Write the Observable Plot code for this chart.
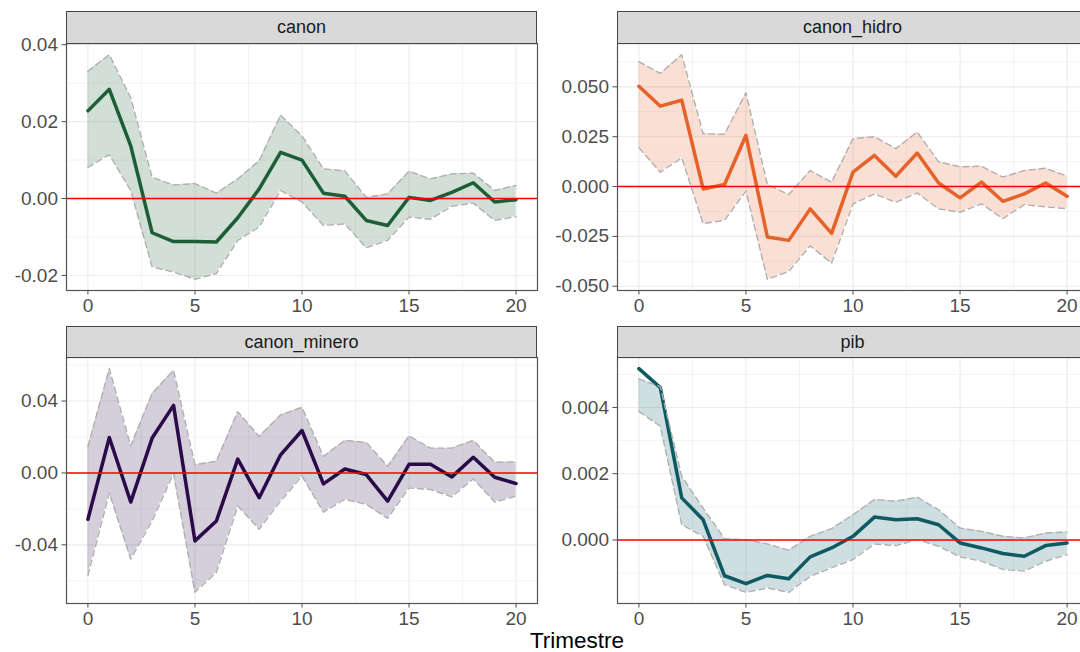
<!DOCTYPE html>
<html>
<head>
<meta charset="utf-8">
<script src="https://cdn.jsdelivr.net/npm/d3@7"></script>
<script src="https://cdn.jsdelivr.net/npm/@observablehq/plot@0.6"></script>
<style>
html, body { margin: 0; padding: 0; background: #fff; overflow: hidden; }
#root { position: relative; width: 1080px; height: 652px; overflow: hidden; font-family: "Liberation Sans", Arial, sans-serif; }
.strip { position: absolute; background: #d9d9d9; border: 1px solid #444; box-sizing: border-box;
  display: flex; align-items: center; justify-content: center; font-size: 18px; color: #1a1a1a; }
.panel { position: absolute; }
.xtitle { position: absolute; font-size: 22.5px; line-height: 23px; color: #000; transform: translateX(-50%); white-space: nowrap; }
</style>
</head>
<body>
<div id="root"></div>
<script>
// ---------- data ----------
const trimestre = [0,1,2,3,4,5,6,7,8,9,10,11,12,13,14,15,16,17,18,19,20];

const canonIrf   = [0.0228,0.0284,0.0137,-0.0089,-0.0112,-0.0112,-0.0113,-0.0050,0.0025,0.0120,0.0100,0.0014,0.0006,-0.0057,-0.0070,0.0003,-0.0005,0.0016,0.0041,-0.0009,-0.0003];
const canonUpper = [0.0331,0.0374,0.0262,0.0055,0.0035,0.0039,0.0014,0.0051,0.0098,0.0217,0.0163,0.0077,0.0072,0.0003,0.0012,0.0071,0.0051,0.0064,0.0066,0.0021,0.0034];
const canonLower = [0.0081,0.0114,0.0021,-0.0178,-0.0191,-0.0210,-0.0195,-0.0109,-0.0074,0.0021,-0.0009,-0.0070,-0.0066,-0.0128,-0.0109,-0.0048,-0.0054,-0.0020,-0.0012,-0.0057,-0.0047];

const hidroIrf   = [0.0503,0.0403,0.0433,-0.0012,0.0010,0.0257,-0.0253,-0.0270,-0.0112,-0.0235,0.0072,0.0156,0.0052,0.0168,0.0018,-0.0057,0.0022,-0.0074,-0.0037,0.0018,-0.0049];
const hidroUpper = [0.0626,0.0567,0.0661,0.0265,0.0262,0.0470,0.0010,-0.0040,0.0080,0.0022,0.0240,0.0250,0.0190,0.0273,0.0124,0.0099,0.0102,0.0047,0.0080,0.0092,0.0052];
const hidroLower = [0.0195,0.0072,0.0144,-0.0186,-0.0169,-0.0023,-0.0465,-0.0426,-0.0297,-0.0384,-0.0087,-0.0037,-0.0079,-0.0032,-0.0112,-0.0129,-0.0087,-0.0161,-0.0091,-0.0102,-0.0111];

const mineroIrf   = [-0.0258,0.0197,-0.0162,0.0194,0.0376,-0.0378,-0.0267,0.0077,-0.0138,0.0101,0.0236,-0.0061,0.0022,-0.0009,-0.0157,0.0048,0.0048,-0.0022,0.0087,-0.0024,-0.0059];
const mineroUpper = [0.0147,0.0580,0.0151,0.0442,0.0571,0.0046,0.0065,0.0341,0.0203,0.0323,0.0365,0.0092,0.0181,0.0170,0.0037,0.0206,0.0138,0.0138,0.0181,0.0059,0.0061];
const mineroLower = [-0.0571,-0.0111,-0.0479,-0.0267,-0.0004,-0.0664,-0.0553,-0.0184,-0.0313,-0.0157,-0.0018,-0.0218,-0.0147,-0.0175,-0.0253,-0.0083,-0.0092,-0.0133,-0.0033,-0.0162,-0.0129];

const pibIrf   = [0.00517,0.00460,0.00127,0.00061,-0.00108,-0.00132,-0.00107,-0.00117,-0.00051,-0.00024,0.00011,0.00069,0.00061,0.00064,0.00046,-0.00009,-0.00024,-0.00041,-0.00049,-0.00017,-0.00009];
const pibUpper = [0.00486,0.00463,0.00192,0.00096,0.00004,0.00001,-0.00012,-0.00031,0.00011,0.00034,0.00076,0.00122,0.00117,0.00129,0.00091,0.00036,0.00026,0.00011,0.00006,0.00021,0.00024];
const pibLower = [0.00388,0.00343,0.00046,0.00011,-0.00135,-0.00158,-0.00145,-0.00158,-0.00110,-0.00084,-0.00059,-0.00012,-0.00017,0.00001,-0.00019,-0.00051,-0.00064,-0.00089,-0.00094,-0.00064,-0.00044];

const panelNames = ["canon", "canon_hidro", "canon_minero", "pib"];
const lineColors = ["#1c5e35", "#e6622a", "#2b0a4a", "#0e5a62"];

const xTicks = [0, 5, 10, 15, 20];
const xMinorTicks = [2.5, 7.5, 12.5, 17.5];
const xTickLabels = ["0", "5", "10", "15", "20"];

const yTicksCanon = [-0.02, 0, 0.02, 0.04];
const yMinorCanon = [-0.01, 0.01, 0.03];
const yLabelsCanon = ["-0.02", "0.00", "0.02", "0.04"];

const yTicksHidro = [-0.05, -0.025, 0, 0.025, 0.05];
const yMinorHidro = [-0.0375, -0.0125, 0.0125, 0.0375, 0.0625];
const yLabelsHidro = ["-0.050", "-0.025", "0.000", "0.025", "0.050"];

const yTicksMinero = [-0.04, 0, 0.04];
const yMinorMinero = [-0.06, -0.02, 0.02, 0.06];
const yLabelsMinero = ["-0.04", "0.00", "0.04"];

const yTicksPib = [0, 0.002, 0.004];
const yMinorPib = [-0.001, 0.001, 0.003, 0.005];
const yLabelsPib = ["0.000", "0.002", "0.004"];

const xTitle = "Trimestre";

// ---------- layout ----------
const root = document.getElementById("root");
const PW = 471;
const panels = [
  {name: panelNames[0], color: lineColors[0], irf: canonIrf, lo: canonLower, hi: canonUpper,
   yt: yTicksCanon, ym: yMinorCanon, yl: yLabelsCanon, px: 66, py: 43, ph: 247, sx: 0, stripTop: 11},
  {name: panelNames[1], color: lineColors[1], irf: hidroIrf, lo: hidroLower, hi: hidroUpper,
   yt: yTicksHidro, ym: yMinorHidro, yl: yLabelsHidro, px: 617, py: 43, ph: 247, sx: 540, stripTop: 11},
  {name: panelNames[2], color: lineColors[2], irf: mineroIrf, lo: mineroLower, hi: mineroUpper,
   yt: yTicksMinero, ym: yMinorMinero, yl: yLabelsMinero, px: 66, py: 357, ph: 246, sx: 0, stripTop: 326},
  {name: panelNames[3], color: lineColors[3], irf: pibIrf, lo: pibLower, hi: pibUpper,
   yt: yTicksPib, ym: yMinorPib, yl: yLabelsPib, px: 617, py: 357, ph: 246, sx: 540, stripTop: 326}
];

for (const p of panels) {
  const rows = trimestre.map((t, i) => ({t, irf: p.irf[i], lo: p.lo[i], hi: p.hi[i]}));
  const ymin = d3.min(rows, d => Math.min(d.irf, d.lo, d.hi));
  const ymax = d3.max(rows, d => Math.max(d.irf, d.lo, d.hi));
  const pad = (ymax - ymin) * 0.05;
  const mt = 2, mb = 34, mr = 3;
  const ml = p.px - p.sx;
  const svg = Plot.plot({
    width: ml + PW + mr,
    height: mt + p.ph + mb,
    marginLeft: ml, marginRight: mr, marginTop: mt, marginBottom: mb,
    style: {fontFamily: "'Liberation Sans', Arial, sans-serif", background: "#fff", overflow: "visible"},
    x: {domain: [-1, 21]},
    y: {domain: [ymin - pad, ymax + pad]},
    marks: [
      Plot.gridX(xMinorTicks, {stroke: "#ebebeb", strokeOpacity: 1, strokeWidth: 0.6}),
      Plot.gridY(p.ym, {stroke: "#ebebeb", strokeOpacity: 1, strokeWidth: 0.6}),
      Plot.gridX(xTicks, {stroke: "#ebebeb", strokeOpacity: 1, strokeWidth: 1.1}),
      Plot.gridY(p.yt, {stroke: "#ebebeb", strokeOpacity: 1, strokeWidth: 1.1}),
      Plot.line(rows, {x: "t", y: "irf", stroke: p.color, strokeWidth: 3.5}),
      Plot.areaY(rows, {x: "t", y1: "lo", y2: "hi", fill: p.color, fillOpacity: 0.2}),
      Plot.line(rows, {x: "t", y: "hi", stroke: "#b0b0b0", strokeWidth: 1.4, strokeDasharray: "6,4"}),
      Plot.line(rows, {x: "t", y: "lo", stroke: "#b0b0b0", strokeWidth: 1.4, strokeDasharray: "6,4"}),
      Plot.ruleY([0], {stroke: "#ff0000", strokeWidth: 1.5}),
      Plot.frame({stroke: "#555", strokeWidth: 1.2}),
      Plot.axisX(xTicks, {anchor: "bottom", tickSize: 4.5, tickPadding: 3, fontSize: 19, color: "#4d4d4d",
        tickFormat: d => xTickLabels[xTicks.indexOf(d)], label: null}),
      Plot.axisY(p.yt, {anchor: "left", tickSize: 4.5, tickPadding: 4, fontSize: 19, color: "#4d4d4d",
        tickFormat: d => p.yl[p.yt.indexOf(d)], label: null})
    ]
  });
  svg.classList.add("panel");
  svg.style.left = p.sx + "px";
  svg.style.top = (p.py - mt) + "px";
  root.appendChild(svg);

  const strip = document.createElement("div");
  strip.className = "strip";
  strip.style.left = p.px + "px";
  strip.style.top = p.stripTop + "px";
  strip.style.width = PW + "px";
  strip.style.height = (p.py - p.stripTop + 1) + "px";
  strip.textContent = p.name;
  root.appendChild(strip);
}

const title = document.createElement("div");
title.className = "xtitle";
title.style.left = "577px";
title.style.top = "629px";
title.textContent = xTitle;
root.appendChild(title);
</script>
</body>
</html>
